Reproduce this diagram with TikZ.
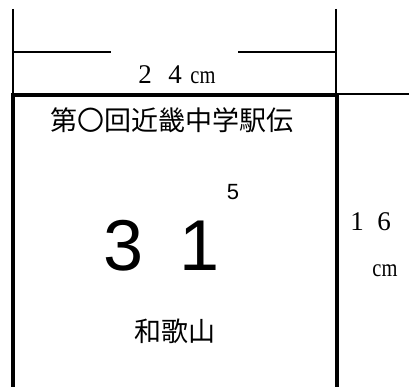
\documentclass[tikz,border=0pt]{standalone}
\usepackage{fontspec}
\setmainfont{Liberation Serif}
\newfontfamily\jpfont{Noto Sans CJK JP}
\newfontfamily\arfont{Liberation Sans}
\newcommand\cmtext{\scalebox{0.82}[1]{\fontsize{25}{25}\selectfont cm}}
\begin{document}
\begin{tikzpicture}[x=1pt,y=-1pt,
  thinline/.style={line width=2pt},
  thickline/.style={line width=4pt},
  lbl/.style={inner sep=0pt,anchor=base}]
\useasboundingbox (0,0) rectangle (409,387);
% dimension guides
\coordinate (tl) at (13,9);
\coordinate (tr) at (336,9);
\coordinate (bl) at (13,95);
\coordinate (br) at (336,95);
\draw[thinline] (tl) -- (bl);
\draw[thinline] (tr) -- (br);
\coordinate (dl) at (12,52);
\coordinate (dl2) at (111,52);
\coordinate (dr) at (238,52);
\coordinate (dr2) at (337,52);
\draw[thinline] (dl) -- (dl2);
\draw[thinline] (dr) -- (dr2);
\coordinate (hr) at (337,94.3);
\coordinate (hr2) at (409,94.3);
\draw[thinline] (hr) -- (hr2);
% main box
\coordinate (b1) at (13,387);
\coordinate (b2) at (13,95.3);
\coordinate (b3) at (337,95.3);
\coordinate (b4) at (337,387);
\draw[thickline] (b1) -- (b2) -- (b3) -- (b4);
% width label
\node[lbl] (w2) at (145,83.3) {\fontsize{27}{27}\selectfont 2};
\node[lbl] (w4) at (175,83.3) {\fontsize{27}{27}\selectfont 4};
\node[lbl] (wcm) at (203,83.3) {\cmtext};
% title
\node[lbl] (title) at (172,131) {\jpfont\fontsize{27}{27}\selectfont 第〇回近畿中学駅伝};
% number
\node[lbl] (n3) at (124,270) {\arfont\fontsize{72}{72}\selectfont 3};
\node[lbl] (n1) at (200,270) {\arfont\fontsize{72}{72}\selectfont 1};
\node[lbl] (n5) at (233,200) {\arfont\fontsize{22}{22}\selectfont 5};
% place
\node[lbl] (place) at (175,341) {\jpfont\fontsize{27}{27}\selectfont 和歌山};
% height label
\node[lbl] (h1) at (357,230) {\fontsize{27}{27}\selectfont 1};
\node[lbl] (h6) at (384,230) {\fontsize{27}{27}\selectfont 6};
\node[lbl] (hcm) at (385,276.7) {\cmtext};
\end{tikzpicture}
\end{document}
